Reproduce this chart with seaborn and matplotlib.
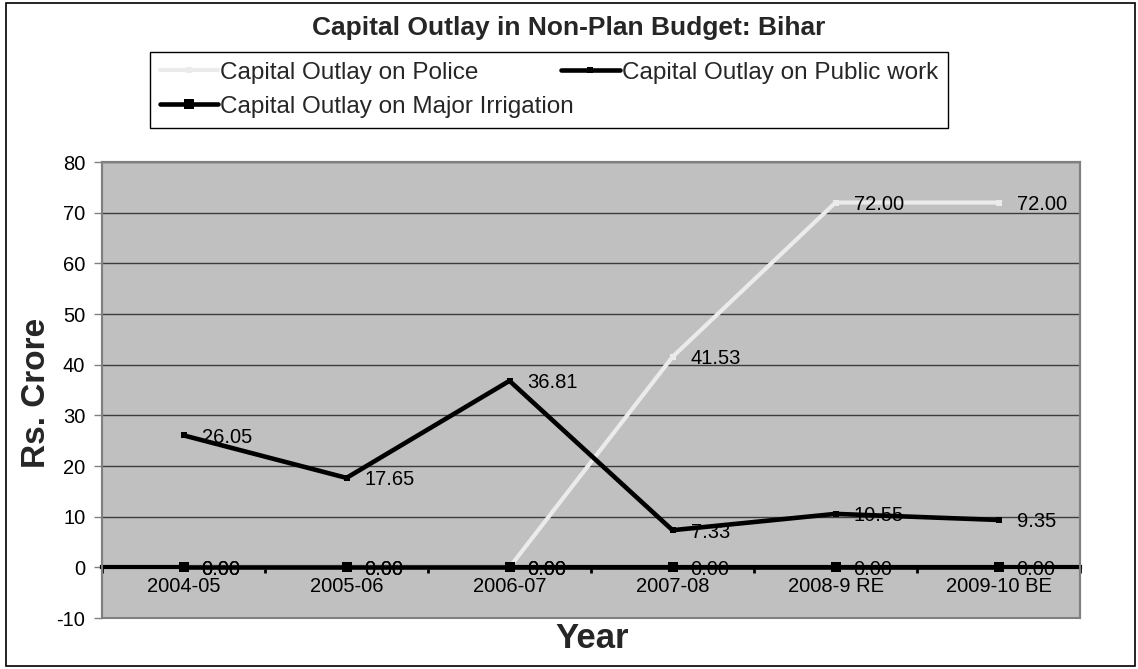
import numpy as np
import pandas as pd
import seaborn as sns
import matplotlib.pyplot as plt
from matplotlib.patches import Rectangle

# Capital outlay figures, Rs. crore
years = ["2004-05", "2005-06", "2006-07", "2007-08", "2008-9 RE", "2009-10 BE"]
police = [0.00, 0.00, 0.00, 41.53, 72.00, 72.00]
public_work = [26.05, 17.65, 36.81, 7.33, 10.55, 9.35]
major_irrigation = [0.00, 0.00, 0.00, 0.00, 0.00, 0.00]

series_names = [
    "Capital Outlay on Police",
    "Capital Outlay on Public work",
    "Capital Outlay on Major Irrigation",
]
series_values = [police, public_work, major_irrigation]

sns.set_theme(style="white")
plt.rcParams["font.family"] = ["Liberation Sans", "DejaVu Sans"]
plt.rcParams["axes.unicode_minus"] = False

W, H = 1138, 669
fig = plt.figure(figsize=(W / 100, H / 100), dpi=100)
fig.patch.set_facecolor("white")

# plot area in pixel terms
left, right, top, bottom = 102, 1080, 162, 618
ax = fig.add_axes([left / W, 1 - bottom / H, (right - left) / W, (bottom - top) / H])
ax.set_facecolor("#C0C0C0")

pos = np.arange(len(years))
frames = []
for name, vals in zip(series_names, series_values):
    frames.append(pd.DataFrame({"pos": pos, "value": vals, "series": name}))
df = pd.concat(frames, ignore_index=True)

styles = {
    "Capital Outlay on Police": dict(color="#EBEBEB", lw=3.0, ms=4.0, z=3),
    "Capital Outlay on Public work": dict(color="black", lw=3.3, ms=4.5, z=4),
    "Capital Outlay on Major Irrigation": dict(color="black", lw=3.3, ms=7.0, z=5),
}

handles = {}
for name in series_names:
    st = styles[name]
    sub = df[df["series"] == name]
    n_before = len(ax.lines)
    sns.lineplot(
        data=sub, x="pos", y="value", ax=ax, color=st["color"], linewidth=st["lw"],
        marker="s", markersize=st["ms"], markeredgewidth=0, markerfacecolor=st["color"],
        label=name, legend=False, zorder=st["z"], errorbar=None, sort=False,
    )
    handles[name] = ax.lines[n_before]

# value labels beside each point
for name, vals in zip(series_names, series_values):
    for x, v in zip(pos, vals):
        ax.annotate(f"{v:.2f}", (x, v), xytext=(13, 0), textcoords="offset points",
                    ha="left", va="center_baseline", fontsize=14.5, color="black",
                    zorder=6)

ax.set_xlim(-0.5, len(years) - 0.5)
ax.set_ylim(-10, 80)
ax.set_yticks(np.arange(-10, 81, 10))
ax.yaxis.grid(True, color="#3C3C3C", linewidth=1.0)
ax.xaxis.grid(False)
ax.set_axisbelow(True)

# category axis crosses at zero
ax.spines["bottom"].set_position(("data", 0))
ax.spines["bottom"].set_color("black")
ax.spines["bottom"].set_linewidth(3)
ax.spines["bottom"].set_zorder(2.5)
for s in ["top", "right", "left"]:
    ax.spines[s].set_color("#808080")
    ax.spines[s].set_linewidth(1.5)

ax.set_xticks(np.arange(-0.5, len(years), 1.0))
ax.set_xticklabels([])
ax.set_xticks(pos, minor=True)
ax.set_xticklabels(years, minor=True)
ax.tick_params(axis="x", which="major", direction="out", length=4, width=2, color="black", bottom=True)
ax.tick_params(axis="x", which="minor", length=0, pad=7, labelsize=14.5, labelcolor="black", bottom=True)
ax.tick_params(axis="y", direction="out", length=6, width=1, color="#808080", left=True,
               labelsize=14.5, labelcolor="black", pad=6)
ax.set_xlabel("")
ax.set_ylabel("")

# plot-area frame
ax.add_patch(Rectangle((0, 0), 1, 1, transform=ax.transAxes, fill=False,
                       edgecolor="#808080", linewidth=1.5, clip_on=False, zorder=7))

fig.text(0.5, 1 - 28 / H, "Capital Outlay in Non-Plan Budget: Bihar",
         ha="center", va="center", fontsize=19, fontweight="bold")
fig.text(37 / W, 1 - 393 / H, "Rs. Crore", rotation=90, ha="center", va="center",
         fontsize=24, fontweight="bold")
fig.text(592 / W, 1 - 639 / H, "Year", ha="center", va="center",
         fontsize=25, fontweight="bold")

order = [series_names[0], series_names[2], series_names[1]]
leg = fig.legend([handles[n] for n in order], order, loc="upper left",
                 bbox_to_anchor=(150 / W, 1 - 127 / H, 798 / W, 75 / H), mode="expand",
                 ncol=2, fontsize=17.5, frameon=True, fancybox=False, framealpha=1,
                 edgecolor="black", handlelength=2.4, handletextpad=0.1,
                 borderaxespad=0, labelspacing=0.5, borderpad=0.4)
leg.get_frame().set_linewidth(1.0)

# outer chart border
fig.add_artist(Rectangle((6 / W, 3 / H), (1135 - 6) / W, (666 - 3) / H,
                         transform=fig.transFigure, fill=False, edgecolor="black",
                         linewidth=1.2))

fig.savefig("out.png", dpi=100)
